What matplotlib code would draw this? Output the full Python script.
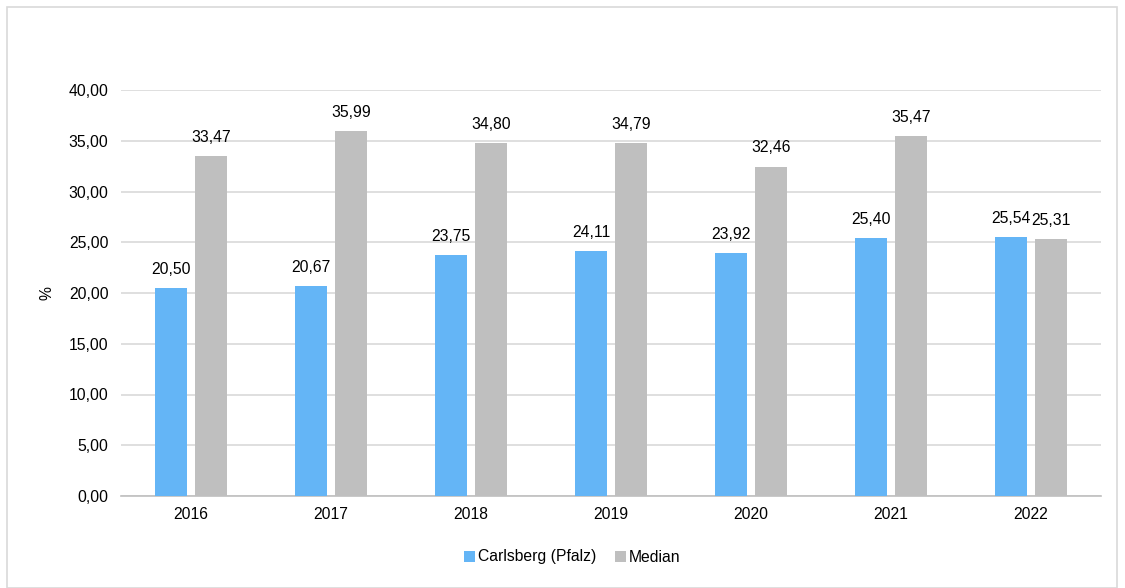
import matplotlib
matplotlib.use("Agg")
import matplotlib.pyplot as plt
from matplotlib.patches import Rectangle
import numpy as np

years = ["2016", "2017", "2018", "2019", "2020", "2021", "2022"]
carlsberg = [20.50, 20.67, 23.75, 24.11, 23.92, 25.40, 25.54]
median = [33.47, 35.99, 34.80, 34.79, 32.46, 35.47, 25.31]
series_names = ["Carlsberg (Pfalz)", "Median"]

plt.rcParams['font.family'] = ['Liberation Sans', 'DejaVu Sans']
FS = 11.3

fig = plt.figure(figsize=(11.25, 5.88), dpi=100)
fig.patches.append(Rectangle((7/1125, 0), 1110/1125, 581/588, transform=fig.transFigure,
                             fill=False, edgecolor='#D9D9D9', linewidth=1.2))
ax = fig.add_axes([121/1125, 1-496/588, 980/1125, 406/588])

x = np.arange(len(years))
w = 0.225
off = 0.143
b1 = ax.bar(x - off, carlsberg, w, color='#64B5F6', label=series_names[0], zorder=3)
b2 = ax.bar(x + off, median, w, color='#BFBFBF', label=series_names[1], zorder=3)

def fmt(v):
    return f"{v:.2f}".replace('.', ',')

for bars, vals in ((b1, carlsberg), (b2, median)):
    for r, v in zip(bars, vals):
        ax.annotate(fmt(v), (r.get_x() + r.get_width()/2, v), xytext=(0, 8),
                    textcoords='offset points', ha='center', va='bottom', fontsize=FS, color='#000000')

ax.set_xlim(-0.5, len(years) - 0.5)
ax.set_ylim(0, 40)
ax.set_yticks(np.arange(0, 40.01, 5))
ax.set_yticklabels([fmt(v) for v in np.arange(0, 40.01, 5)], fontsize=FS)
ax.set_xticks(x)
ax.set_xticklabels(years, fontsize=FS)
ax.tick_params(axis='both', length=0)
ax.tick_params(axis='x', pad=8)
ax.tick_params(axis='y', pad=9)
ax.grid(axis='y', color='#D9D9D9', linewidth=1.2, zorder=0)
for s in ['top', 'right', 'left']:
    ax.spines[s].set_visible(False)
ax.spines['bottom'].set_color('#BFBFBF')
ax.spines['bottom'].set_linewidth(1.2)
ax.set_ylabel('%', fontsize=FS)
ax.yaxis.set_label_coords((55 - 121) / 980, 0.5)

fig.legend(handles=[b1, b2], labels=series_names, loc='center', bbox_to_anchor=(572/1125, 1-557/588),
           ncol=2, frameon=False, fontsize=FS, handlelength=0.7, handleheight=0.7,
           handletextpad=0.2, columnspacing=1.2)

fig.savefig('out.png', dpi=100)
